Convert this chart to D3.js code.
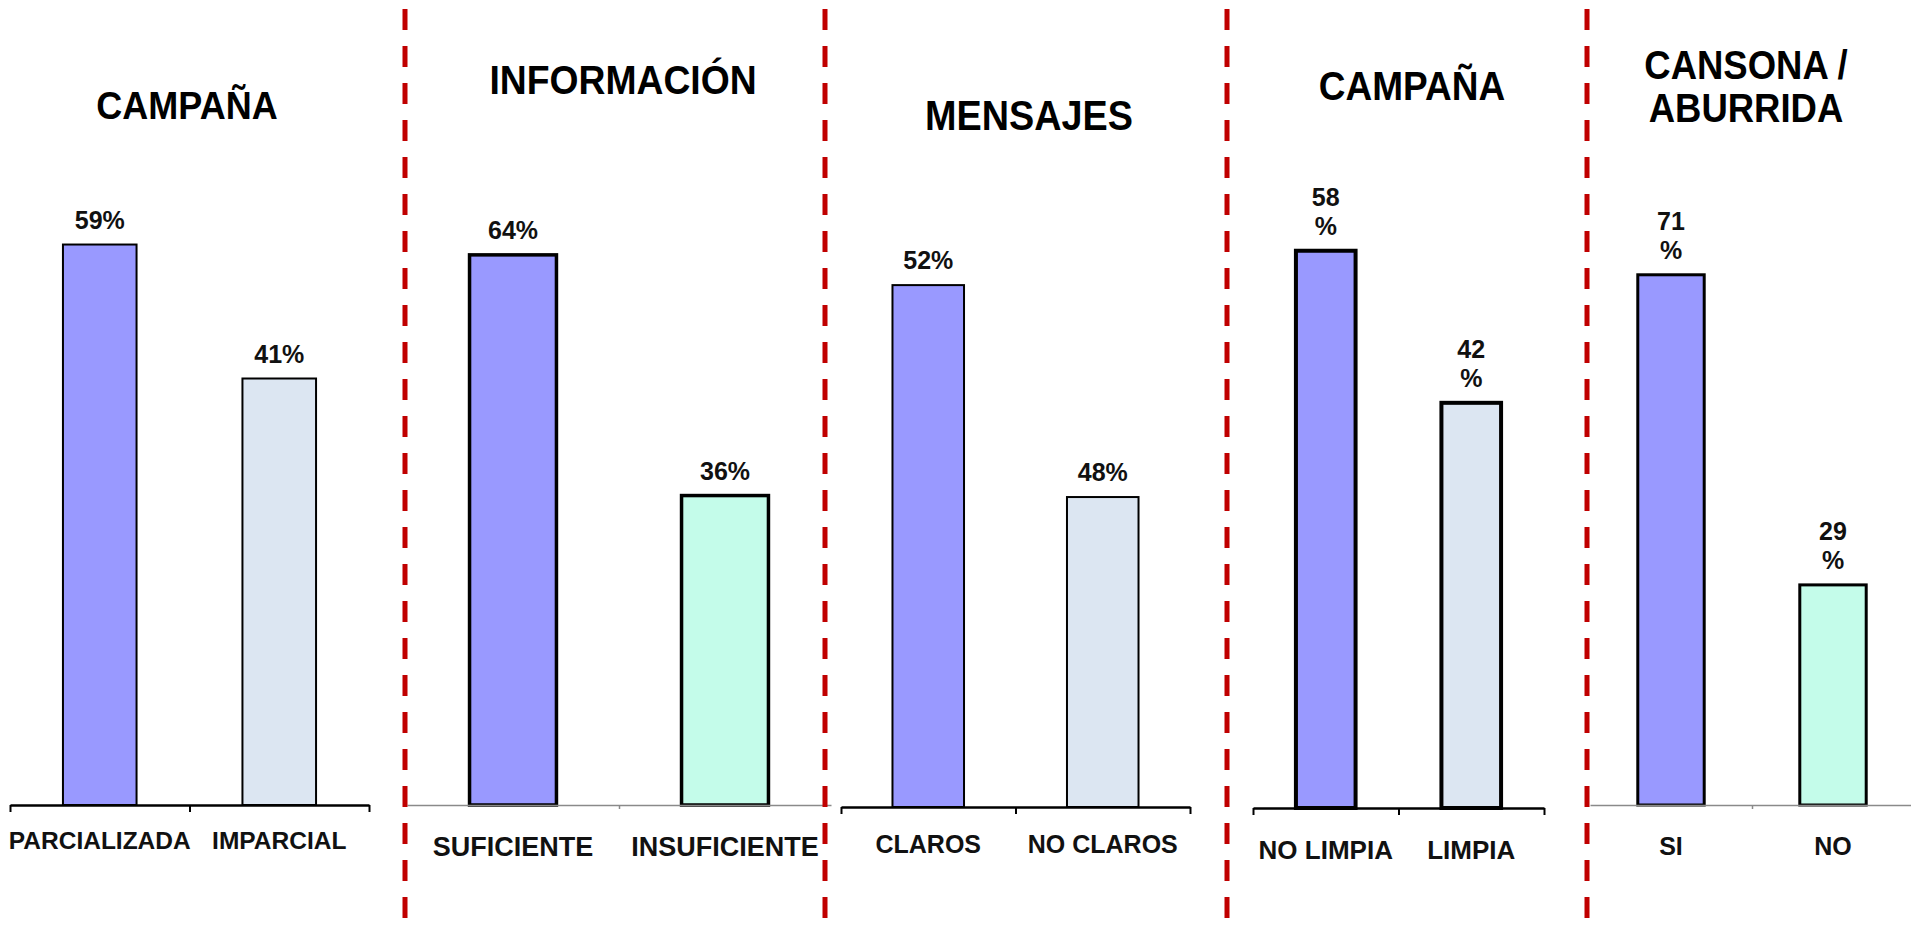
<!DOCTYPE html>
<html>
<head>
<meta charset="utf-8">
<script src="https://cdn.jsdelivr.net/npm/d3@7/dist/d3.min.js"></script>
<style>
  html, body { margin: 0; padding: 0; background: #fff; }
  svg { display: block; }
  text { font-family: "Liberation Sans", Arial, sans-serif; font-weight: bold; }
</style>
</head>
<body>
<svg id="chart" width="1911" height="932"></svg>
<script>
// ---- Data ----
const titles = [["CAMPAÑA"], ["INFORMACIÓN"], ["MENSAJES"], ["CAMPAÑA"], ["CANSONA /", "ABURRIDA"]];
const categories = [
  ["PARCIALIZADA", "IMPARCIAL"],
  ["SUFICIENTE", "INSUFICIENTE"],
  ["CLAROS", "NO CLAROS"],
  ["NO LIMPIA", "LIMPIA"],
  ["SI", "NO"]
];
const values = [[59, 41], [64, 36], [52, 48], [58, 42], [71, 29]];
const splitValueLabels = [false, false, false, true, true];
// value-axis extents of each original sub-chart (axes were not all zero-based)
const yDomains = [[-16.3, 71.7], [0, 76.2], [42.15, 54.55], [-0.63, 68.6], [-0.81, 87.9]];

// ---- Styles / layout ----
const PURPLE = "#9999FF", LIGHT = "#DCE6F2", MINT = "#C4FCEA";
const barColors = [[PURPLE, LIGHT], [PURPLE, MINT], [PURPLE, LIGHT], [PURPLE, LIGHT], [PURPLE, MINT]];
const layout = [
  { x0: 10,   x1: 369,  base: 805, tx: 187,  ty: [119],     tsize: 36,   cy: 849, csize: 24.5, stroke: 2,   axis: "black" },
  { x0: 407,  x1: 831,  base: 805, tx: 623,  ty: [94],      tsize: 37.3, cy: 856, csize: 27,   stroke: 3.5, axis: "gray"  },
  { x0: 841,  x1: 1190, base: 807, tx: 1029, ty: [130],     tsize: 37.8, cy: 853, csize: 25,   stroke: 2,   axis: "black" },
  { x0: 1253, x1: 1544, base: 808, tx: 1412, ty: [100],     tsize: 37,   cy: 859, csize: 26,   stroke: 4,   axis: "black" },
  { x0: 1590, x1: 1914, base: 805, tx: 1746, ty: [79, 122], tsize: 36.5, cy: 855, csize: 25,   stroke: 3,   axis: "gray"  }
];
const PLOT_TOP = 150;

const svg = d3.select("#chart");
svg.append("rect").attr("width", 1911).attr("height", 932).attr("fill", "#fff");

layout.forEach((L, i) => {
  const g = svg.append("g");
  const x = d3.scaleBand().domain(categories[i]).range([L.x0, L.x1])
    .paddingInner(0.59).paddingOuter(0.295);
  const y = d3.scaleLinear().domain(yDomains[i]).range([L.base, PLOT_TOP]);

  // title
  titles[i].forEach((t, k) => {
    g.append("text")
      .attr("transform", `translate(${L.tx},${L.ty[k]}) scale(1,1.1)`)
      .attr("text-anchor", "middle")
      .attr("font-size", L.tsize)
      .attr("fill", "#000")
      .text(t);
  });

  // bars
  const data = categories[i].map((c, j) => ({ c, v: values[i][j], fill: barColors[i][j] }));
  g.selectAll("rect.bar").data(data).enter().append("rect")
    .attr("class", "bar")
    .attr("x", d => x(d.c))
    .attr("width", x.bandwidth())
    .attr("y", d => y(d.v))
    .attr("height", d => y(yDomains[i][0]) - y(d.v))
    .attr("fill", d => d.fill)
    .attr("stroke", "#000")
    .attr("stroke-width", L.stroke);

  // value labels
  data.forEach(d => {
    const cx = x(d.c) + x.bandwidth() / 2;
    const top = y(d.v) - 16;
    const lines = splitValueLabels[i] ? [String(d.v), "%"] : [d.v + "%"];
    lines.slice().reverse().forEach((s, k) => {
      g.append("text")
        .attr("transform", `translate(${cx},${top - k * 29}) scale(1,1.05)`)
        .attr("text-anchor", "middle")
        .attr("font-size", 25)
        .attr("fill", "#111")
        .text(s);
    });
  });

  // category axis (ticks between categories, as in the original)
  const xt = d3.scaleLinear().domain([0, categories[i].length]).range([L.x0, L.x1]);
  const isGray = L.axis === "gray";
  const axis = d3.axisBottom(xt)
    .tickValues(isGray ? [1] : d3.range(0, categories[i].length + 1))
    .tickFormat("")
    .tickSize(isGray ? 4 : 7)
    .tickSizeOuter(0);
  const ag = g.append("g").attr("transform", `translate(0,${L.base})`).call(axis);
  ag.select(".domain").attr("stroke", isGray ? "#8a8a8a" : "#000").attr("stroke-width", isGray ? 1.5 : 2.5);
  ag.selectAll(".tick line").attr("stroke", isGray ? "#8a8a8a" : "#000").attr("stroke-width", isGray ? 1.5 : 2);

  // category labels
  g.selectAll("text.cat").data(categories[i]).enter().append("text")
    .attr("class", "cat")
    .attr("x", d => x(d) + x.bandwidth() / 2)
    .attr("y", L.cy)
    .attr("text-anchor", "middle")
    .attr("font-size", L.csize)
    .attr("fill", "#111")
    .text(d => d);
});

// red dashed separators
[405, 825, 1227, 1587].forEach(px => {
  svg.append("line")
    .attr("x1", px).attr("x2", px).attr("y1", 9).attr("y2", 932)
    .attr("stroke", "#C00000").attr("stroke-width", 5)
    .attr("stroke-dasharray", "21,16");
});
</script>
</body>
</html>
